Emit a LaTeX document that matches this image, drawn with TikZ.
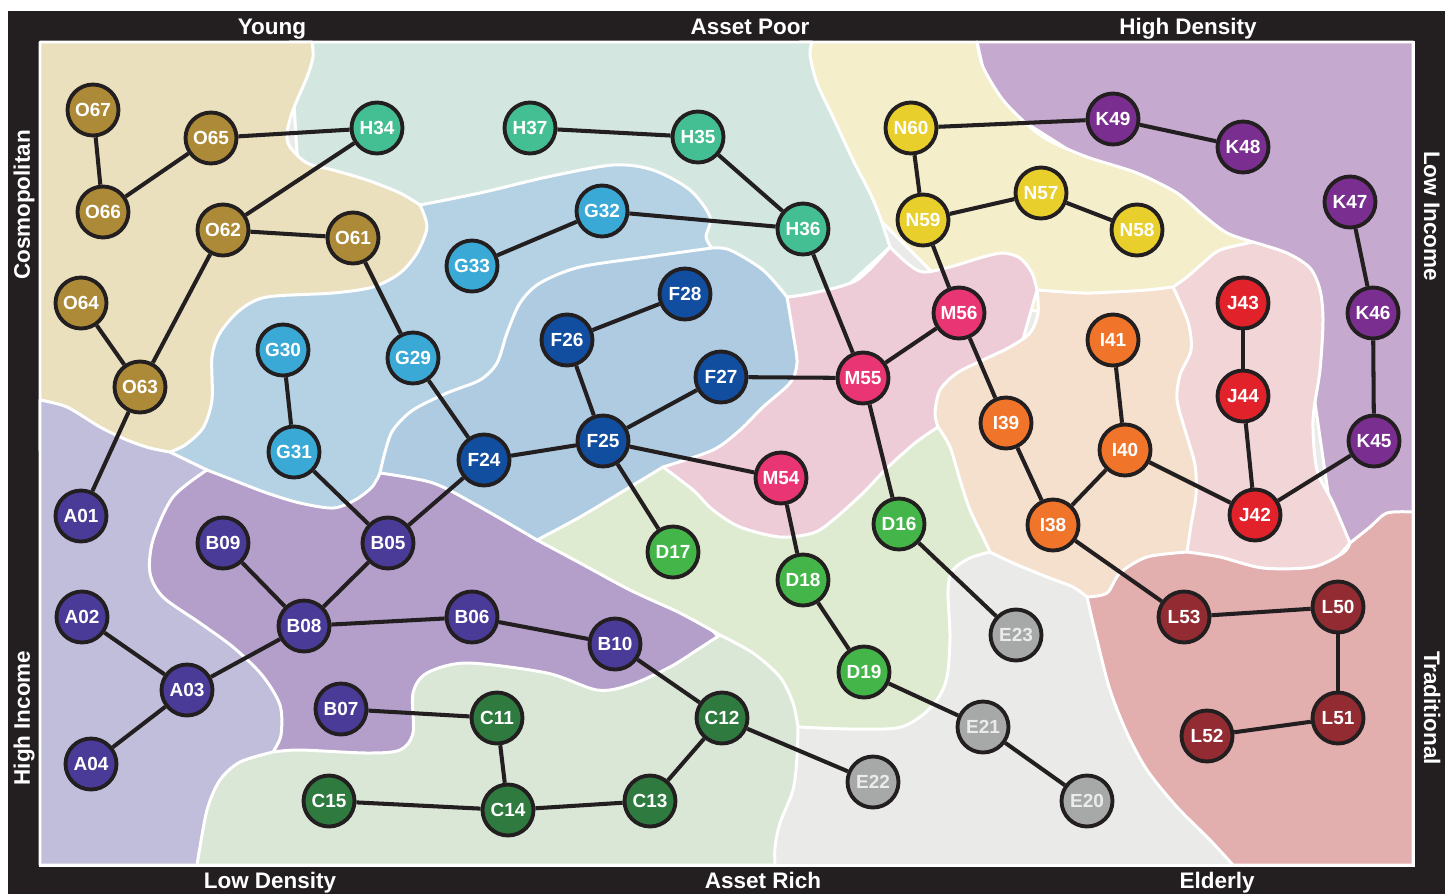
\documentclass[tikz,border=0pt]{standalone}
\usepackage{fontspec}
\setmainfont{Liberation Sans}
\definecolor{framecol}{HTML}{231F20}
% region colours
\definecolor{rgO}{HTML}{EAE0BE}
\definecolor{rgH}{HTML}{D3E7E0}
\definecolor{rgG}{HTML}{B4D2E4}
\definecolor{rgF}{HTML}{AECBE2}
\definecolor{rgA}{HTML}{C1BEDB}
\definecolor{rgB}{HTML}{B49ECA}
\definecolor{rgC}{HTML}{DAE7D6}
\definecolor{rgD}{HTML}{DFEBD0}
\definecolor{rgE}{HTML}{EAEAE8}
\definecolor{rgM}{HTML}{EDCCD8}
\definecolor{rgN}{HTML}{F4EECB}
\definecolor{rgK}{HTML}{C6A9CE}
\definecolor{rgI}{HTML}{F5E0CE}
\definecolor{rgJ}{HTML}{F2D6D7}
\definecolor{rgL}{HTML}{E2AEAE}
% node colours
\definecolor{ndO}{HTML}{AD8A38}
\definecolor{ndH}{HTML}{44BE93}
\definecolor{ndG}{HTML}{3AA9D6}
\definecolor{ndF}{HTML}{124EA0}
\definecolor{ndA}{HTML}{4A3B98}
\definecolor{ndC}{HTML}{2E7A3F}
\definecolor{ndD}{HTML}{44B549}
\definecolor{ndE}{HTML}{A7A9A8}
\definecolor{ndM}{HTML}{E93573}
\definecolor{ndN}{HTML}{E8CF2C}
\definecolor{ndK}{HTML}{7A2E8F}
\definecolor{ndJ}{HTML}{E2222B}
\definecolor{ndI}{HTML}{F07429}
\definecolor{ndL}{HTML}{922B32}
\tikzset{
  region/.style={draw=white,line width=1.7pt,line join=round},
  geo/.style={circle,draw=framecol,line width=2.2pt,minimum size=1.02cm,inner sep=0pt,
    text=white,font=\bfseries\fontsize{10.8}{12}\selectfont},
  link/.style={draw=framecol,line width=2.3pt},
  side/.style={text=white,anchor=base,font=\bfseries\fontsize{12.8}{14}\selectfont}
}

\begin{document}
\begin{tikzpicture}[x=0.02cm,y=-0.02cm]
  \useasboundingbox (0,0) rectangle (1456,893);
  % frame
  \fill[white] (0,0) rectangle (1456,893);
  \fill[framecol] (8,11) rectangle (1445,910);
  \fill[rgE] (40,42) rectangle (1413,865);
  % regions, back to front
  \filldraw[region,fill=rgK] (977,42) -- (1413,42) -- (1413,560) -- (1340,575) -- (1300,300) -- (1250,250) -- (1100,170) -- (990,100) -- cycle;
  \filldraw[region,fill=rgN] (812,42) -- (977,42)
    -- plot[smooth] coordinates {(977,42) (983,67) (1003,100) (1030,127) (1050,141) (1087,157) (1137,173) (1177,193) (1203,215) (1227,233) (1253,242)}
    -- (1230,280) -- (1100,320) -- (960,300) -- (860,200) -- (800,42) -- cycle;
  \filldraw[region,fill=rgH] (290,42) -- (812,42)
    -- plot[smooth] coordinates {(812,42) (810,55) (817,83) (833,117) (853,160) (870,193) (880,217) (890,247)}
    -- (810,320) -- (600,300) -- (450,250) -- (300,200) -- cycle;
  \filldraw[region,fill=rgO] (40,42) -- (312,42)
    -- plot[smooth] coordinates {(312,42) (313,57) (307,77) (293,110) (287,133) (290,147) (307,163) (333,170) (367,180) (400,193) (420,205)}
    -- (470,260) -- (300,380) -- (200,480) -- (100,480) -- (40,450) -- cycle;
  \filldraw[region,fill=rgA] (40,865) -- (40,400)
    -- plot[smooth] coordinates {(40,400) (67,407) (100,427) (127,440) (150,448) (170,452)}
    -- (250,480) -- (330,700) -- (350,800) -- (300,865) -- cycle;
  \filldraw[region,fill=rgG] (420,205)
    -- plot[smooth] coordinates {(420,205) (480,193) (547,177) (613,165) (653,170) (690,190) (710,217) (706,237) (712,248)}
    -- (600,350) -- (450,450) -- (380,500) -- (300,530) -- (207,470) -- (170,452)
    -- plot[smooth] coordinates {(170,452) (185,445) (203,428) (212,400) (212,357) (220,333) (240,310) (267,297) (333,293) (373,287) (400,273) (417,253) (427,227) (420,205)}
    -- cycle;
  \filldraw[region,fill=rgF] (380,473)
    -- plot[smooth] coordinates {(380,473) (385,452) (393,430) (413,410) (447,393) (480,380) (497,363) (507,333) (520,303) (540,283) (580,267) (647,257) (712,248)}
    -- plot[smooth] coordinates {(712,248) (730,250) (763,270) (787,297)}
    -- (850,380) -- (700,520) -- (520,570) -- (380,520) -- cycle;
  \filldraw[region,fill=rgM] (787,297)
    -- plot[smooth] coordinates {(787,297) (813,293) (857,280) (890,247)}
    -- plot[smooth] coordinates {(890,247) (907,263) (923,272) (950,267) (983,257) (1003,253) (1020,258) (1032,273) (1037,290)}
    -- (1000,420) -- (920,520) -- (800,560) -- (680,520) -- (663,467)
    -- plot[smooth] coordinates {(663,467) (713,450) (740,430) (763,407) (790,383) (797,363) (793,333) (787,297)}
    -- cycle;
  \filldraw[region,fill=rgI] (1173,287)
    -- plot[smooth] coordinates {(1173,287) (1147,290) (1113,292) (1083,293) (1037,290)}
    -- plot[smooth] coordinates {(1037,290) (1038,313) (1030,333) (1010,347) (983,360) (957,373) (940,390) (935,413) (938,427)}
    -- (930,500) -- (990,552)
    -- plot[smooth] coordinates {(990,552) (1013,563) (1047,577) (1073,587) (1087,597)}
    -- (1150,620) -- (1250,500) -- (1250,300) -- cycle;
  \filldraw[region,fill=rgJ] (1253,242)
    -- plot[smooth] coordinates {(1253,242) (1287,253) (1310,268) (1320,290) (1323,320) (1320,370) (1313,420) (1317,470) (1333,503) (1350,543)}
    -- (1300,600) -- (1200,600) -- (1187,552)
    -- plot[smooth] coordinates {(1187,552) (1191,525) (1196,495) (1195,465) (1185,430) (1177,400) (1180,375) (1191,350) (1188,322) (1173,287)}
    -- plot[smooth] coordinates {(1173,287) (1187,277) (1203,263) (1220,250) (1253,242)}
    -- cycle;
  \filldraw[region,fill=rgL] (1413,512) -- (1413,865) -- (1233,865)
    -- plot[smooth] coordinates {(1233,865) (1210,840) (1177,807) (1147,770) (1127,733) (1110,690) (1097,640) (1087,597)}
    -- plot[smooth] coordinates {(1087,597) (1107,593) (1120,573) (1147,557) (1187,552)}
    -- plot[smooth] coordinates {(1187,552) (1220,557) (1263,568) (1313,567) (1343,553) (1350,543)}
    -- plot[smooth] coordinates {(1350,543) (1370,527) (1387,513) (1413,512)}
    -- cycle;
  \filldraw[region,fill=rgB] (207,470)
    -- plot[smooth] coordinates {(207,470) (233,480) (267,493) (300,503) (333,508) (355,500) (372,487) (380,473)}
    -- plot[smooth] coordinates {(380,473) (433,483) (480,507) (537,540)}
    -- (650,560) -- (730,650) -- (600,720) -- (300,800) -- (273,752)
    -- plot[smooth] coordinates {(273,752) (281,735) (280,705) (262,675) (233,647) (200,623) (163,597) (150,573) (153,540) (173,497) (207,470)}
    -- cycle;
  \filldraw[region,fill=rgC] (197,865)
    -- plot[smooth] coordinates {(197,865) (207,810) (220,780) (240,762) (273,752)}
    -- plot[smooth] coordinates {(273,752) (300,750) (367,753) (400,750) (413,733) (413,693) (427,673) (467,663) (547,673) (597,690) (630,685) (670,667) (697,650) (720,635)}
    -- (760,600) -- (850,700) -- (798,727)
    -- plot[smooth] coordinates {(798,727) (797,757) (793,790) (780,823) (775,847) (775,865)}
    -- cycle;
  \filldraw[region,fill=rgD] (537,540)
    -- plot[smooth] coordinates {(537,540) (580,517) (630,487) (663,467)}
    -- plot[smooth] coordinates {(663,467) (693,490) (713,510) (740,527) (780,537) (813,533) (833,520) (863,493) (887,468) (915,443) (938,427)}
    -- plot[smooth] coordinates {(938,427) (950,447) (960,480) (970,510) (983,537) (990,552)}
    -- plot[smooth] coordinates {(990,552) (970,558) (953,570) (948,590) (950,637) (947,677) (937,700) (920,717) (897,728) (850,729) (798,727)}
    -- plot[smooth] coordinates {(798,727) (793,703) (780,677) (753,653) (720,635)}
    -- plot[smooth] coordinates {(720,635) (680,613) (630,590) (580,563) (537,540)}
    -- cycle;
  \draw[white,line width=1.7pt] (40,42) rectangle (1413,865);
  % the groups
  \foreach \n/\x/\y in {O67/93/110,O65/211/138,O66/103/212,O62/223/230,O61/353/238,O64/81/303,O63/140/387}
    \node[geo,fill=ndO] (\n) at (\x,\y) {\n};
  \foreach \n/\x/\y in {H34/377/128,H37/530/128,H35/698/137,H36/803/229}
    \node[geo,fill=ndH] (\n) at (\x,\y) {\n};
  \foreach \n/\x/\y in {G32/602/211,G33/472/266,G30/283/350,G29/413/358,G31/294/452}
    \node[geo,fill=ndG] (\n) at (\x,\y) {\n};
  \foreach \n/\x/\y in {F28/685/294,F26/567/340,F27/721/377,F24/484/460,F25/603/441}
    \node[geo,fill=ndF] (\n) at (\x,\y) {\n};
  \foreach \n/\x/\y in {A01/81/516,A02/82/617,A03/187/690,A04/91/764,B09/223/543,B05/388/543,B08/304/626,B06/472/617,B10/615/644,B07/341/709}
    \node[geo,fill=ndA] (\n) at (\x,\y) {\n};
  \foreach \n/\x/\y in {C11/497/718,C12/722/718,C15/329/801,C14/508/810,C13/650/801}
    \node[geo,fill=ndC] (\n) at (\x,\y) {\n};
  \foreach \n/\x/\y in {D16/899/524,D17/673/552,D18/803/580,D19/864/672}
    \node[geo,fill=ndD] (\n) at (\x,\y) {\n};
  \foreach \n/\x/\y in {E23/1016/635,E21/983/727,E22/873/782,E20/1087/801}
    \node[geo,fill=ndE,text=white!92!black] (\n) at (\x,\y) {\n};
  \foreach \n/\x/\y in {M55/863/378,M56/959/313,M54/781/478}
    \node[geo,fill=ndM] (\n) at (\x,\y) {\n};
  \foreach \n/\x/\y in {N60/911/128,N59/923/220,N57/1041/193,N58/1137/230}
    \node[geo,fill=ndN] (\n) at (\x,\y) {\n};
  \foreach \n/\x/\y in {K49/1113/119,K48/1243/147,K47/1350/202,K46/1373/313,K45/1374/441}
    \node[geo,fill=ndK] (\n) at (\x,\y) {\n};
  \foreach \n/\x/\y in {J43/1243/303,J44/1243/396,J42/1255/515}
    \node[geo,fill=ndJ] (\n) at (\x,\y) {\n};
  \foreach \n/\x/\y in {I41/1113/340,I39/1006/423,I40/1125/450,I38/1053/525}
    \node[geo,fill=ndI] (\n) at (\x,\y) {\n};
  \foreach \n/\x/\y in {L53/1184/617,L50/1338/607,L51/1338/718,L52/1207/736}
    \node[geo,fill=ndL] (\n) at (\x,\y) {\n};
  % links
  \foreach \a/\b in {O67/O66,O66/O65,O65/H34,H34/O62,O62/O61,O62/O63,O64/O63,O63/A01,
      O61/G29,G29/F24,G30/G31,G31/B05,B05/F24,B05/B08,B09/B08,B08/B06,B08/A03,A02/A03,
      A03/A04,B06/B10,B10/C12,B07/C11,C11/C14,C15/C14,C14/C13,C13/C12,C12/E22,F24/F25,
      F25/F26,F26/F28,F25/F27,F27/M55,F25/M54,F25/D17,M54/D18,D18/D19,D19/E21,E21/E20,
      H37/H35,H35/H36,G32/H36,G33/G32,H36/M55,M55/M56,M55/D16,D16/E23,M56/N59,N59/N60,
      N60/K49,K49/K48,N59/N57,N57/N58,M56/I39,I39/I38,I38/I40,I40/I41,I40/J42,J43/J44,
      J44/J42,J42/K45,K45/K46,K46/K47,I38/L53,L53/L50,L50/L51,L51/L52}
    \draw[link] (\a) -- (\b);
  % axis labels
  \node[side] (young) at (272,34) {Young};
  \node[side] (poor) at (750,34) {Asset Poor};
  \node[side] (hiden) at (1188,34) {High Density};
  \node[side] (lowden) at (270,888) {Low Density};
  \node[side] (rich) at (763,888) {Asset Rich};
  \node[side] (elder) at (1217,888) {Elderly};
  \node[side,rotate=90] (cosmo) at (30,205) {Cosmopolitan};
  \node[side,rotate=90] (hiinc) at (30,718) {High Income};
  \node[side,rotate=-90] (loinc) at (1424,216) {Low Income};
  \node[side,rotate=-90] (trad) at (1424,708) {Traditional};
\end{tikzpicture}
\end{document}
